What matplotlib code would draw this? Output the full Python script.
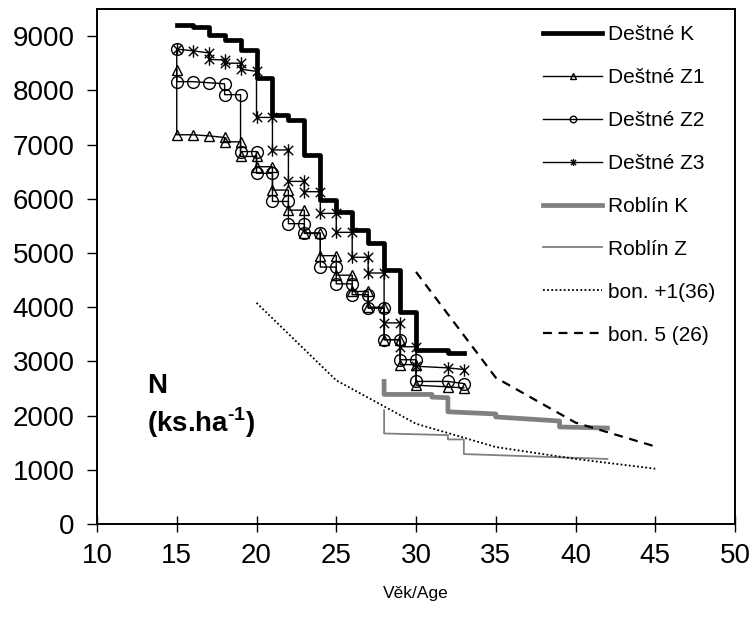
import matplotlib
matplotlib.use("Agg")
import matplotlib.pyplot as plt
from matplotlib.path import Path

plt.rcParams['font.family'] = ['Liberation Sans', 'DejaVu Sans']
plt.rcParams['mathtext.fontset'] = 'custom'
plt.rcParams['mathtext.rm'] = 'Liberation Sans:bold'
plt.rcParams['mathtext.bf'] = 'Liberation Sans:bold'

# Deštné K (kontrola) - schody
K_age = [15, 16, 17, 18, 19, 20, 21, 22, 23, 24, 25, 26, 27, 28, 29, 30, 32, 33]
K_n = [9200, 9170, 9020, 8930, 8740, 8230, 7550, 7450, 6810, 5980, 5760, 5430,
       5180, 4690, 3910, 3210, 3150, 3150]

# Deštné Z1
Z1_age = [15, 15, 16, 17, 18, 18, 19, 19, 20, 20, 21, 21, 22, 22, 23, 23, 24, 24,
          25, 25, 26, 26, 27, 27, 28, 28, 29, 29, 30, 30, 32, 33]
Z1_n = [8380, 7180, 7180, 7160, 7130, 7050, 7050, 6780, 6780, 6590, 6590, 6160,
        6160, 5790, 5790, 5370, 5370, 4950, 4950, 4590, 4590, 4290, 4290, 4000,
        4000, 3400, 3400, 2940, 2940, 2560, 2530, 2510]

# Deštné Z2
Z2_age = [15, 15, 16, 17, 18, 18, 19, 19, 20, 20, 21, 21, 22, 22, 23, 23, 24, 24,
          25, 25, 26, 26, 27, 27, 28, 28, 29, 29, 30, 30, 32, 33]
Z2_n = [8760, 8160, 8160, 8140, 8120, 7920, 7920, 6870, 6870, 6470, 6470, 5950,
        5950, 5540, 5540, 5360, 5360, 4740, 4740, 4430, 4430, 4230, 4230, 3980,
        3980, 3400, 3400, 3030, 3030, 2630, 2630, 2590]

# Deštné Z3
Z3_age = [15, 16, 17, 17, 18, 18, 19, 19, 20, 20, 21, 21, 22, 22, 23, 23, 24, 24,
          25, 25, 26, 26, 27, 27, 28, 28, 29, 29, 30, 30, 32, 33]
Z3_n = [8760, 8730, 8690, 8570, 8560, 8500, 8500, 8390, 8350, 7500, 7500, 6900,
        6900, 6320, 6320, 6130, 6130, 5730, 5730, 5380, 5380, 4920, 4920, 4630,
        4630, 3710, 3710, 3270, 3270, 2910, 2880, 2850]

# Roblín
RK_age = [28, 28, 31, 31, 32, 32, 35, 35, 39, 39, 42]
RK_n = [2630, 2390, 2390, 2340, 2330, 2070, 2030, 1975, 1900, 1790, 1770]
RZ_age = [28, 28, 32, 32, 33, 33, 42]
RZ_n = [2100, 1670, 1640, 1560, 1560, 1290, 1200]

# růstové tabulky
B1_age = [20, 25, 30, 35, 40, 45]
B1_n = [4080, 2650, 1850, 1420, 1200, 1020]
B5_age = [30, 35, 40, 45]
B5_n = [4650, 2700, 1870, 1430]

x_ticks = [10, 15, 20, 25, 30, 35, 40, 45, 50]
y_ticks = [0, 1000, 2000, 3000, 4000, 5000, 6000, 7000, 8000, 9000]

# hvězdička jako v Excelu (x + svislá čára)
star = Path([(0, -1), (0, 1), (-0.75, -0.75), (0.75, 0.75), (-0.75, 0.75), (0.75, -0.75)],
            [Path.MOVETO, Path.LINETO, Path.MOVETO, Path.LINETO, Path.MOVETO, Path.LINETO])

fig = plt.figure(figsize=(7.53, 6.28), dpi=100)
ax = fig.add_axes([97/753, (628-524)/628, (735-97)/753, (524-9)/628])

grey = '#808080'
ax.plot(K_age, K_n, color='black', lw=3.4, drawstyle='steps-post', label='Deštné K')
ax.plot(Z1_age, Z1_n, color='black', lw=1.0, marker='^', ms=7.5, mfc='none',
        mec='black', mew=1.0, label='Deštné Z1')
ax.plot(Z2_age, Z2_n, color='black', lw=1.0, marker='o', ms=8.5, mfc='none',
        mec='black', mew=1.0, label='Deštné Z2')
ax.plot(Z3_age, Z3_n, color='black', lw=1.0, marker=star, ms=9, mfc='none',
        mec='black', mew=1.0, label='Deštné Z3')
ax.plot(RK_age, RK_n, color=grey, lw=3.4, label='Roblín K')
ax.plot(RZ_age, RZ_n, color=grey, lw=1.3, label='Roblín Z')
ax.plot(B1_age, B1_n, color='black', lw=1.3, linestyle=(0, (1, 1.3)), label='bon. +1(36)')
ax.plot(B5_age, B5_n, color='black', lw=1.6, linestyle=(0, (4, 3)), label='bon. 5 (26)')

ax.set_xlim(10, 50)
ax.set_ylim(0, 9500)
ax.set_xticks(x_ticks)
ax.set_yticks(y_ticks)
ax.tick_params(axis='x', direction='inout', length=11.5, width=1.0, labelsize=20, pad=8)
ax.tick_params(axis='y', direction='out', length=7, width=1.0, labelsize=20, pad=9)
for s in ax.spines.values():
    s.set_linewidth(1.4)

ax.set_xlabel('Věk/Age', fontsize=12.5, labelpad=12)

ax.text(0.078, 0.268, 'N', transform=ax.transAxes, fontsize=20, fontweight='bold',
        ha='left', va='center')
ax.text(0.078, 0.196, r'(ks.ha$^{\text{-1}}$)', transform=ax.transAxes, fontsize=20,
        fontweight='bold', ha='left', va='center')

ax.legend(loc='upper left', bbox_to_anchor=(0.699, 0.969), frameon=False, fontsize=15,
          borderpad=0, borderaxespad=0, handlelength=2.84, handletextpad=0.3,
          labelspacing=1.15, markerscale=0.55)

fig.savefig('out.png', dpi=100)
